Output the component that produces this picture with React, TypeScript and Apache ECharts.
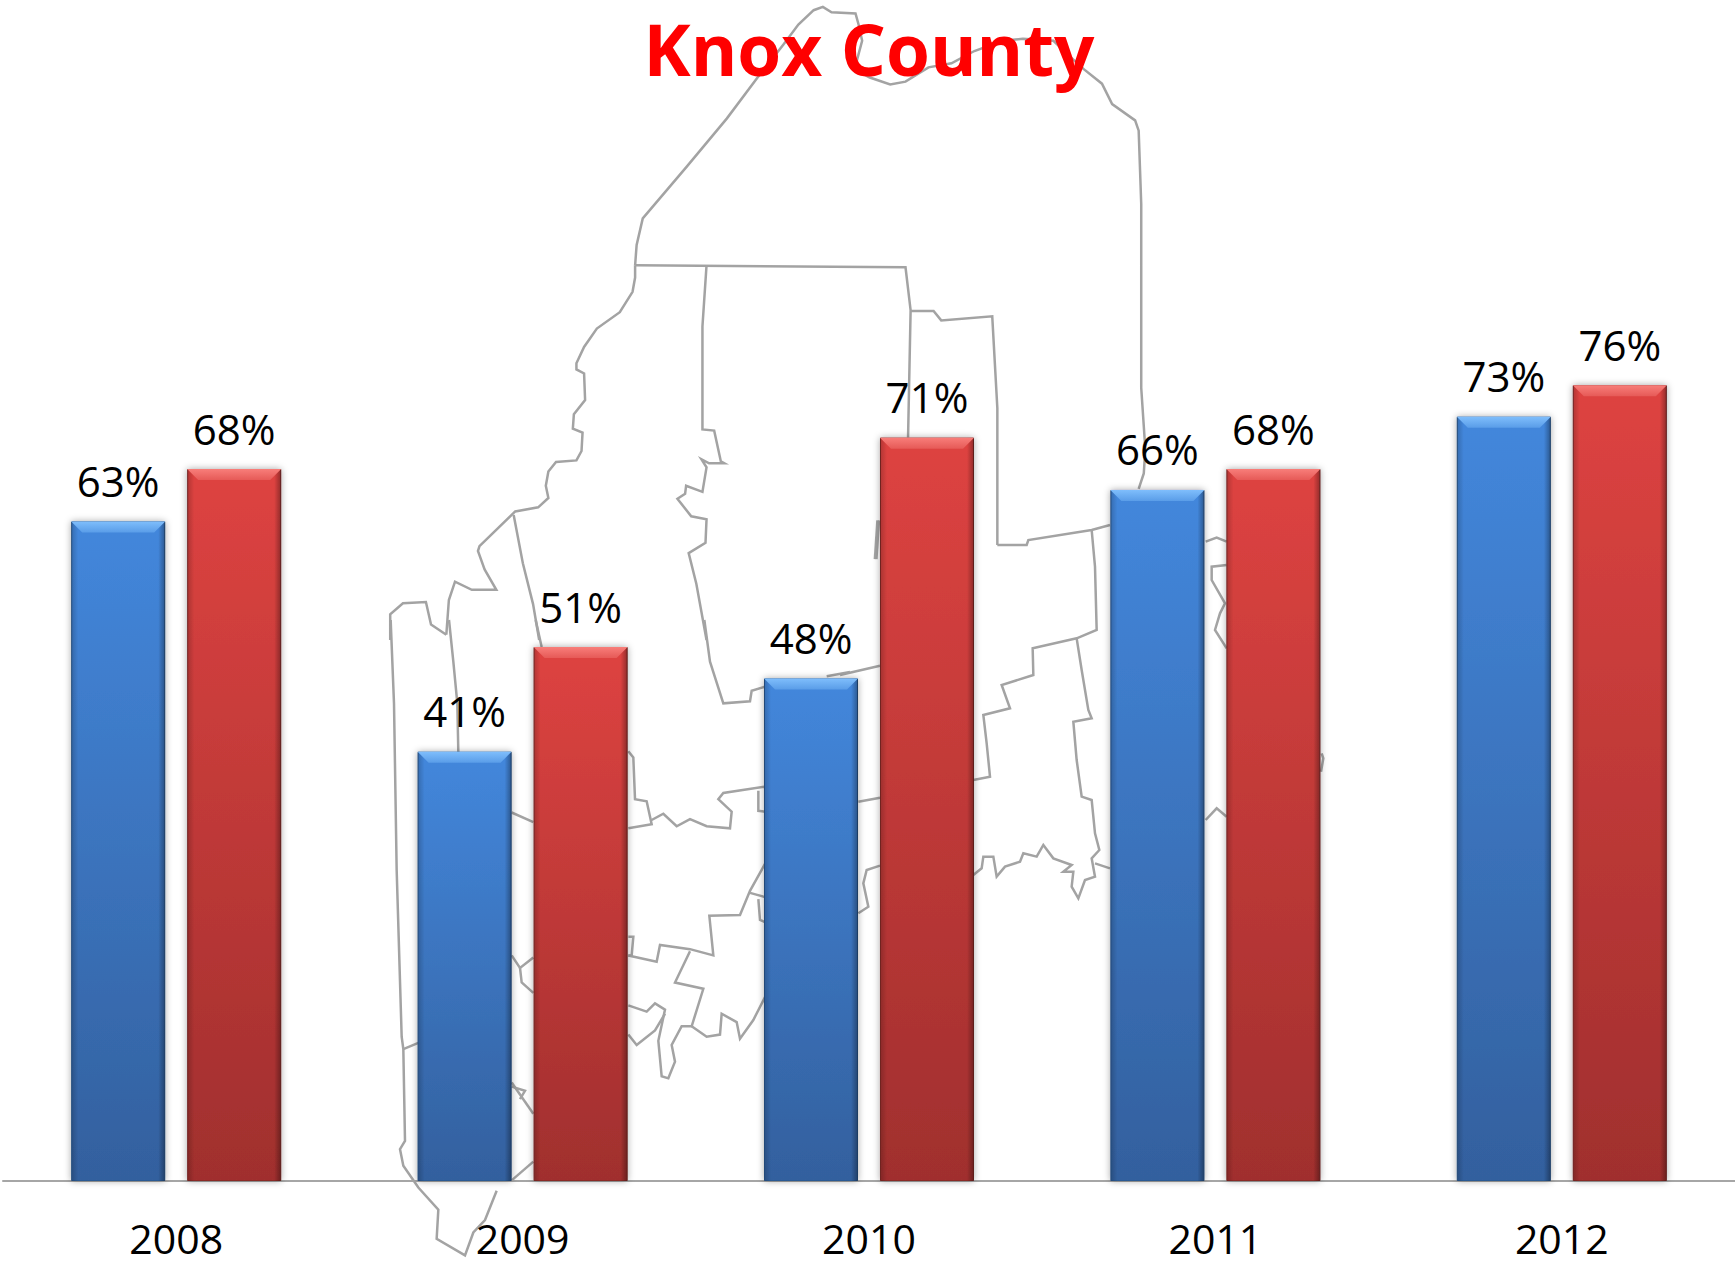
import React, { useEffect, useRef } from "react";
import * as echarts from "echarts";

const years = ["2008", "2009", "2010", "2011", "2012"];
const blueValues = [63, 41, 48, 66, 73];
const redValues = [68, 51, 71, 68, 76];

type P = [number, number][];
const zoomA = (p: P): P => p.map(([x, y]) => [380 + x / 1.96, y / 2.45]);
const zoomB = (p: P): P => p.map(([x, y]) => [370 + x / 3, 620 + y / 2.4]);
const zoomC = (p: P): P => p.map(([x, y]) => [840 + x / 3, 500 + y / 3]);

const mapLines: P[] = [
  ...[
    [[500,650],[503,600],[515,535],[600,410],[680,290],[740,190],[790,110],[820,60],[850,25],[868,17],[885,30],[932,33],[938,60],[945,100],[930,170],[960,190],[1000,207],[1030,200],[1075,165],[1120,155],[1165,125],[1220,100],[1260,95],[1320,100],[1345,130],[1380,170],[1415,205],[1435,255],[1480,295],[1487,320],[1492,500],[1492,950],[1500,1100],[1497,1160],[1487,1198]],
    [[500,650],[500,680],[495,715],[470,765],[425,805],[400,850],[385,890],[385,905],[400,915],[402,980],[380,1015],[378,1050],[397,1060],[395,1105],[385,1128],[345,1132],[330,1155],[325,1190],[330,1220],[310,1243],[265,1253],[195,1338],[192,1350],[205,1395],[228,1445],[180,1445],[147,1425],[135,1470],[130,1555]],
    [[20,1568],[20,1505],[45,1478],[90,1475],[100,1530],[130,1555]],
    [[262,1262],[280,1380],[300,1480],[312,1568]],
    [[500,650],[1030,655],[1040,760],[1035,1072]],
    [[640,650],[632,800],[632,1052],[655,1055],[668,1130],[675,1135],[645,1135],[630,1125],[640,1145],[632,1205],[600,1190],[598,1210],[583,1222],[610,1265],[640,1272],[638,1330],[605,1355],[620,1430],[640,1568]],
    [[1040,762],[1085,762],[1100,785],[1200,775],[1210,1000],[1210,1335]],
    [[975,1275],[970,1370]],
    [[978,1275],[973,1370]],
  ].map((p) => zoomA(p as P)),
  ...[
    [[237,0],[250,100],[262,200],[265,320]],
    [[62,0],[72,200],[80,600],[95,1000],[100,1030],[105,1250],[90,1270],[100,1310],[145,1362],[205,1415],[200,1485],[285,1525],[310,1470],[345,1440],[380,1370]],
    [[100,1030],[145,1015]],
    [[425,1345],[490,1300]],
    [[425,1110],[490,1185]],
    [[425,1120],[465,1130],[450,1150]],
    [[425,805],[450,835],[490,810]],
    [[450,835],[455,870],[490,895]],
    [[425,462],[490,485]],
    [[497,0],[515,65]],
    [[1003,0],[1020,100],[1060,200],[1140,195],[1145,170],[1185,160]],
    [[1370,135],[1440,125]],
    [[775,315],[790,330],[795,430],[830,435],[845,490],[775,500]],
    [[845,480],[880,465],[920,495],[960,478],[1010,495],[1080,500],[1085,460],[1045,430],[1060,415],[1185,400]],
    [[1165,410],[1165,458],[1185,460]],
    [[775,760],[790,760],[785,805],[775,805]],
    [[775,805],[860,820],[870,780],[960,790],[1030,805],[1018,710],[1110,708],[1140,650],[1185,585]],
    [[1140,655],[1185,665]],
    [[1165,670],[1170,720],[1185,725]],
    [[960,795],[915,870],[1000,885],[965,975],[935,975],[905,1020],[915,1060],[895,1100],[875,1095],[865,1010],[885,935],[855,920],[830,940],[775,925]],
    [[885,945],[855,985],[800,1020],[775,995]],
    [[965,975],[1010,1000],[1050,995],[1055,945],[1100,965],[1110,1005],[1150,960],[1185,905]],
  ].map((p) => zoomB(p as P)),
  ...[
    [[472,135],[560,135],[565,120],[755,90],[810,75]],
    [[755,90],[765,200],[770,390],[710,415],[578,445],[580,525],[485,555],[510,625],[430,645],[440,730],[450,830],[400,840]],
    [[710,415],[725,510],[745,630],[755,655],[700,665],[710,780],[725,890],[755,900],[765,1000],[778,1050],[755,1075],[765,1130],[735,1140],[715,1195],[695,1160],[700,1115],[670,1115],[695,1095],[640,1075],[610,1035],[590,1070],[550,1060],[540,1085],[495,1100],[470,1130],[460,1070],[430,1070],[425,1105],[400,1125]],
    [[765,1090],[810,1105]],
    [[1097,125],[1130,113],[1160,125]],
    [[1160,195],[1115,200],[1115,240],[1155,310],[1140,340],[1125,390],[1160,445]],
    [[1097,960],[1130,925],[1160,950]],
    [[1445,760],[1450,775],[1443,815]],
    [[55,905],[120,893]],
    [[120,1097],[80,1110],[70,1150],[85,1220],[55,1240]],
    [[0,525],[120,497]],
  ].map((p) => zoomC(p as P)),
];

const barW = 94;
const barOffset = 58;

const vGrad = (top: string, bottom: string) =>
  new echarts.graphic.LinearGradient(0, 0, 0, 1, [
    { offset: 0, color: top },
    { offset: 1, color: bottom },
  ]);

const bevelSeries = (values: number[], sign: number, light: string, lightEnd: string) => ({
  type: "custom",
  silent: true,
  z: 5,
  encode: { x: 0, y: 1 },
  data: values.map((v, i) => [i, v]),
  renderItem: (_: unknown, api: any) => {
    const [cx, top] = api.coord([api.value(0), api.value(1)]);
    const [, bottom] = api.coord([api.value(0), 0]);
    const l = cx + sign * barOffset - barW / 2;
    const r = l + barW;
    const b = 11;
    const edge = 7;
    const h = bottom - top;
    return {
      type: "group",
      children: [
        {
          type: "rect",
          shape: { x: l, y: top, width: edge, height: h },
          style: {
            fill: new echarts.graphic.LinearGradient(0, 0, 1, 0, [
              { offset: 0, color: "rgba(0,0,0,0.2)" },
              { offset: 1, color: "rgba(0,0,0,0)" },
            ]),
          },
        },
        {
          type: "rect",
          shape: { x: r - edge, y: top, width: edge, height: h },
          style: {
            fill: new echarts.graphic.LinearGradient(0, 0, 1, 0, [
              { offset: 0, color: "rgba(0,0,0,0)" },
              { offset: 1, color: "rgba(0,0,0,0.35)" },
            ]),
          },
        },
        {
          type: "polygon",
          shape: { points: [[l, top], [r, top], [r - b, top + b], [l + b, top + b]] },
          style: { fill: vGrad(light, lightEnd) },
        },
      ],
    };
  },
});

const barSeries = (name: string, values: number[], top: string, bottom: string, border: string) => ({
  name,
  type: "bar",
  data: values,
  barWidth: barW,
  barGap: "23.4%",
  z: 3,
  itemStyle: {
    color: vGrad(top, bottom),
    borderColor: border,
    borderWidth: 1,
    shadowBlur: 7,
    shadowColor: "rgba(0,0,0,0.35)",
  },
  label: {
    show: true,
    position: "top",
    distance: 20,
    formatter: "{c}%",
    color: "#000",
    fontFamily: "Open Sans",
    fontSize: 42,
  },
});

export default function App() {
  const ref = useRef<HTMLDivElement>(null);
  useEffect(() => {
    document.body.style.margin = "0";
    const chart = echarts.init(ref.current!, undefined, { renderer: "svg" });
    chart.setOption({
      animation: false,
      backgroundColor: "#fff",
      title: {
        text: "Knox County",
        left: 864,
        top: 8,
        textAlign: "center",
        textStyle: {
          color: "#ff0000",
          fontFamily: "Open Sans",
          fontWeight: "bold",
          fontSize: 71,
        },
      },
      grid: { left: 3, width: 1735, top: 134, height: 1047 },
      xAxis: {
        type: "category",
        data: years,
        axisTick: { show: false },
        axisLine: { lineStyle: { color: "#a6a6a6", width: 2 } },
        axisLabel: {
          color: "#000",
          fontFamily: "Open Sans",
          fontSize: 41,
          margin: 36,
        },
      },
      yAxis: { type: "value", min: 0, max: 100, show: false, splitLine: { show: false } },
      graphic: mapLines.map((points) => ({
        type: "polyline",
        z: -1,
        silent: true,
        shape: { points },
        style: { stroke: "#a3a3a3", lineWidth: 2.5, fill: "none" },
      })),
      series: [
        barSeries("Blue", blueValues, "#4387dc", "#33609e", "#2a5a94"),
        barSeries("Red", redValues, "#de4341", "#a02f2e", "#8a2a28"),
        bevelSeries(blueValues, -1, "#7fbefc", "#5a9de8"),
        bevelSeries(redValues, 1, "#f87e7a", "#e65a57"),
      ],
    });
    return () => chart.dispose();
  }, []);
  return <div ref={ref} style={{ position: "absolute", left: 0, top: 0, width: 1735, height: 1266 }} />;
}
